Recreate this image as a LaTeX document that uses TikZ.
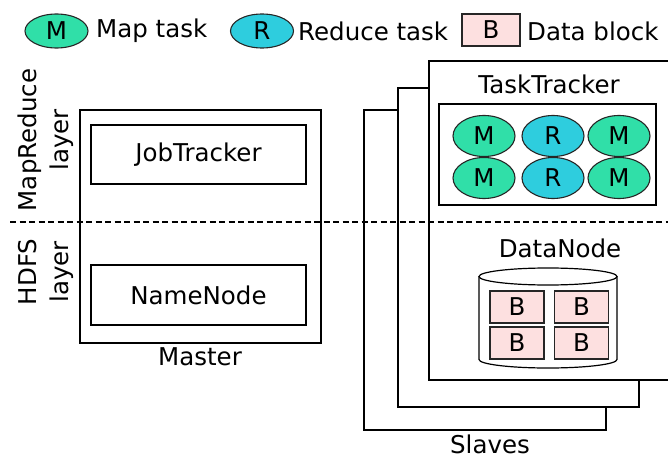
\documentclass[tikz,border=0pt]{standalone}
\usepackage{fontspec}
\setmainfont{DejaVu Sans}
\usetikzlibrary{shapes.geometric}
\definecolor{mapc}{HTML}{30DFA8}
\definecolor{redc}{HTML}{2ECDDE}
\definecolor{blkc}{HTML}{FDE0E0}
\begin{document}
\begin{tikzpicture}[x=1pt,y=-1pt,
  every node/.style={font=\fontsize{24.5}{30}\selectfont},
  box/.style={draw=black,line width=1.4pt,fill=white},
  mapt/.style={ellipse,draw=black!85,line width=1.1pt,fill=mapc,minimum width=62pt,minimum height=41pt,inner sep=0pt},
  redt/.style={mapt,fill=redc},
  blk/.style={draw=black!85,line width=1.1pt,fill=blkc,minimum width=54pt,minimum height=32pt,inner sep=0pt},
  lbl/.style={inner sep=0pt,anchor=west}]
\useasboundingbox (0,0) rectangle (668,457);
\clip (0,0) rectangle (668,457);
% legend
\node[mapt,minimum width=63pt,minimum height=34pt] (lm) at (56.5,31) {M};
\node[lbl] (lmt) at (96,31) {Map task};
\node[redt,minimum width=63pt,minimum height=34pt] (lr) at (262,31) {R};
\node[lbl] (lrt) at (298,31) {Reduce task};
\node[blk,minimum width=58pt,minimum height=32pt] (lb) at (491,30) {B};
\node[lbl] (lbt) at (527,31) {Data block};
% master
\node[box,minimum width=241pt,minimum height=233pt,inner sep=0pt] (master) at (200.5,226.5) {};
\node[box,minimum width=215pt,minimum height=59pt,inner sep=0pt] (jt) at (198.5,154.5) {JobTracker};
\node[box,minimum width=215pt,minimum height=60pt,inner sep=0pt] (nn) at (198.5,295) {NameNode};
\node (mlab) at (200,357) {Master};
% side labels
\node[rotate=90,align=center,font=\fontsize{24.5}{32}\selectfont] (mrl) at (46,140) {MapReduce\\layer};
\node[rotate=90,align=center,font=\fontsize{24.5}{32}\selectfont] (hdl) at (46,272) {HDFS\\layer};
% slaves
\draw[box] (364,110) rectangle (606,430);
\draw[box] (398,88) rectangle (639,407);
\draw[box] (429,61) rectangle (690,380);
\node[anchor=base,inner sep=0pt] (slab) at (490,453) {Slaves};
\node (ttl) at (549,84) {TaskTracker};
\node[box,minimum width=217pt,minimum height=101pt,inner sep=0pt] (tt) at (547.5,154.5) {};
\node[mapt] (t1) at (484,136) {M};
\node[redt] (t2) at (553,136) {R};
\node[mapt] (t3) at (619,136) {M};
\node[mapt] (t4) at (484,178) {M};
\node[redt] (t5) at (553,178) {R};
\node[mapt] (t6) at (619,178) {M};
\node (dnl) at (560,248) {DataNode};
% cylinder
\coordinate (ctop) at (548,276.5);
\coordinate (cbot) at (548,359.5);
\draw[line width=1.2pt,fill=white] (479,276.5) -- (479,359.5) arc[start angle=180,end angle=0,x radius=69,y radius=8.5] -- (617,276.5);
\draw[line width=1.2pt,fill=white] (ctop) ellipse [x radius=69,y radius=8.5];
\node[blk] (b1) at (517,307) {B};
\node[blk] (b2) at (581.5,307) {B};
\node[blk] (b3) at (517,343) {B};
\node[blk] (b4) at (581.5,343) {B};
% dashed separator
\coordinate (dl) at (10,222);
\coordinate (dr) at (690,222);
\draw[line width=1.4pt,dash pattern=on 6pt off 3.5pt] (dl) -- (dr);
\end{tikzpicture}
\end{document}
